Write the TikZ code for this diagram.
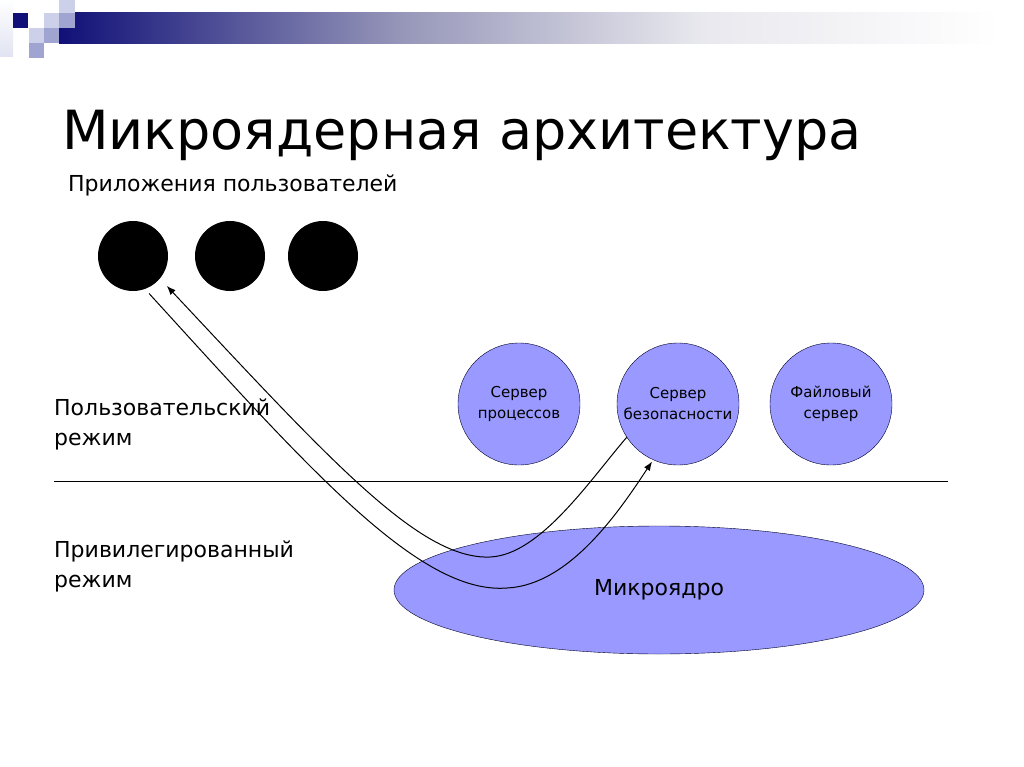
\documentclass[tikz,border=0pt]{standalone}
\usepackage{fontspec}
\setmainfont{DejaVu Sans}
\usetikzlibrary{shapes.geometric,arrows.meta}
\definecolor{navy}{RGB}{16,16,120}
\definecolor{barmid}{RGB}{150,150,185}
\definecolor{barlight}{RGB}{232,232,238}
\definecolor{lav}{RGB}{204,208,232}
\definecolor{lavmid}{RGB}{160,164,208}
\definecolor{srv}{RGB}{153,153,255}
\tikzset{
  >={Latex[length=9pt,width=7pt]},
  app/.style={circle,fill=black,minimum size=70pt,inner sep=0pt},
  server/.style={circle,draw=black!85!blue,fill=srv,minimum size=122pt,inner sep=0pt,align=center,font=\fontsize{15}{21}\selectfont},
  label/.style={anchor=base west,inner sep=0pt,align=left,font=\fontsize{22}{30}\selectfont},
  conn/.style={draw=black,line width=1pt},
}
\begin{document}
\begin{tikzpicture}[x=1pt,y=-1pt]
\useasboundingbox (0,0) rectangle (1024,767);
\fill[white] (0,0) rectangle (1024,767);
% header decoration
\shade[left color=navy,right color=barmid] (59,13) rectangle (400,44);
\shade[left color=barmid,right color=barlight] (400,13) rectangle (700,44);
\shade[left color=barlight,right color=white] (700,13) rectangle (1000,44);
\shade[top color=white,bottom color=lav!60] (0,0) rectangle (13,57);
\fill[navy] (13,13) rectangle (28,28);
\fill[lav] (44,13) rectangle (59,28);
\fill[lavmid] (59,13) rectangle (75,28);
\fill[lav] (59,0) rectangle (75,13);
\fill[lav] (29,28) rectangle (44,43);
\fill[lavmid] (44,28) rectangle (59,43);
\fill[lavmid] (29,43) rectangle (44,58);
% title and labels
\node[anchor=base west,inner sep=0pt,font=\fontsize{54}{60}\selectfont] (title) at (62,150) {Микроядерная архитектура};
\node[label] (apps) at (68,192) {Приложения пользователей};
\node[label] (user) at (54,445) {Пользовательский\\режим};
\node[label] (priv) at (54,587) {Привилегированный\\режим};
% applications
\node[app] (app1) at (133,256) {};
\node[app] (app2) at (230,256) {};
\node[app] (app3) at (323,256) {};
% servers
\node[server] (ps) at (519,404) {Сервер\\процессов};
\node[server] (ss) at (678,404) {Сервер\\безопасности};
\node[server] (fs) at (831,404) {Файловый\\сервер};
% separator
\coordinate (sepL) at (54,481);
\coordinate (sepR) at (948,481);
\draw[line width=1pt] (sepL) -- (sepR);
% kernel
\node[ellipse,draw=black!85!blue,fill=srv,minimum width=530pt,minimum height=128pt,inner sep=0pt,font=\fontsize{22}{26}\selectfont] (kernel) at (659,590) {Микроядро};
% connectors
\draw[conn,<-,shorten <=10pt] (app1.-40) .. controls (330,460) and (420,560) .. (490,557)
   .. controls (540,555) and (590,480) .. (ss.-147);
\draw[conn,->,shorten <=6pt,shorten >=2pt] (app1.-70) .. controls (310,470) and (420,595) .. (507,588)
   .. controls (570,585) and (620,510) .. (ss.-114);
\end{tikzpicture}
\end{document}
